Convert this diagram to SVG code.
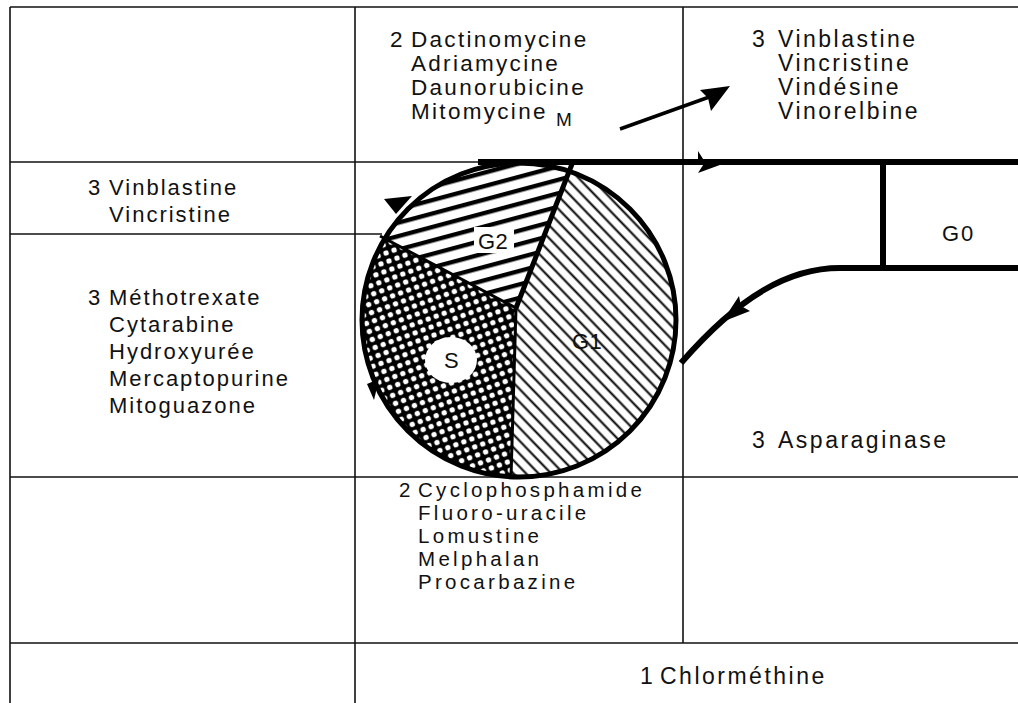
<svg xmlns="http://www.w3.org/2000/svg" width="1018" height="703" viewBox="0 0 1018 703">
<style>
text { font-family: "Liberation Sans", Arial, sans-serif; font-size: 22px; letter-spacing: 2px; fill: #111; }
.wide { font-size: 23px; letter-spacing: 2.5px; }
.mid { font-size: 22.5px; letter-spacing: 2.3px; }
.bot { font-size: 20.5px; letter-spacing: 3.3px; }
.lbl { font-size: 22px; letter-spacing: 0.5px; }
.grid { stroke: #111; stroke-width: 1.6; fill: none; }
.thick { stroke: #000; stroke-width: 6; fill: none; }
</style>
<defs>
  <clipPath id="circ"><circle cx="519" cy="320" r="157"/></clipPath>
  <pattern id="pG2" width="13" height="13" patternUnits="userSpaceOnUse" patternTransform="rotate(-15)">
    <rect width="13" height="13" fill="#fff"/>
    <rect y="4" width="13" height="4.4" fill="#000"/>
  </pattern>
  <pattern id="pG1" width="9" height="9" patternUnits="userSpaceOnUse" patternTransform="rotate(-44)">
    <rect width="9" height="9" fill="#fff"/>
    <rect x="3.5" width="2" height="9" fill="#000"/>
  </pattern>
  <pattern id="pS" width="8.5" height="8.5" patternUnits="userSpaceOnUse" patternTransform="rotate(-20)">
    <rect width="8.5" height="8.5" fill="#000"/>
    <circle cx="4.25" cy="4.25" r="2.7" fill="#fff"/>
  </pattern>
</defs>
<rect width="1018" height="703" fill="#fff"/>

<g id="grid">
  <line class="grid" x1="10" y1="7" x2="1018" y2="7"/>
  <line class="grid" x1="10" y1="7" x2="10" y2="703"/>
  <line class="grid" x1="355" y1="7" x2="355" y2="703"/>
  <line class="grid" x1="683" y1="7" x2="683" y2="643"/>
  <line class="grid" x1="10" y1="162" x2="480" y2="162"/>
  <line class="grid" x1="10" y1="234" x2="382" y2="234"/>
  <line class="grid" x1="10" y1="477" x2="1018" y2="477"/>
  <line class="grid" x1="10" y1="643" x2="1018" y2="643"/>
</g>

<g id="cycle">
  <g clip-path="url(#circ)">
    <polygon points="516,308 578,150 340,150 340,215" fill="url(#pG2)"/>
    <polygon points="516,308 578,150 700,150 700,500 511,500" fill="url(#pG1)"/>
    <polygon points="516,308 511,500 340,500 340,215" fill="url(#pS)"/>
  </g>
  <line x1="516" y1="308" x2="572" y2="164" stroke="#000" stroke-width="5"/>
  <line x1="516" y1="308" x2="380" y2="236" stroke="#000" stroke-width="3"/>
  <line x1="516" y1="308" x2="511" y2="477" stroke="#000" stroke-width="3"/>
  <circle cx="519" cy="320" r="157" fill="none" stroke="#000" stroke-width="5"/>
  <rect x="474" y="227" width="40" height="26" fill="#fff"/>
  <ellipse cx="451" cy="360" rx="26" ry="23" fill="#fff"/>
  <text class="lbl" x="478" y="249">G2</text>
  <text class="lbl" x="444" y="368">S</text>
  <text class="lbl" x="572" y="349">G1</text>
  <path d="M384,199 L412,196 L404,205 L396,214 Z" fill="#000"/>
  <path d="M367,384 L379,379 L374,400 Z" fill="#000"/>
</g>

<g id="connectors">
  <line class="thick" x1="478" y1="162" x2="1018" y2="162"/>
  <path d="M698,162 L728,162 L698,173 L705,162 L698,151 Z" fill="#000"/>
  <line class="thick" x1="883" y1="162" x2="883" y2="268"/>
  <path class="thick" d="M1018,268 L840,268 C790,268 740,295 681,363"/>
  <path d="M722,322 L750,311 L741,306 L739,296 Z" fill="#000"/>
  <line x1="620" y1="129" x2="712" y2="96" stroke="#000" stroke-width="3.5"/>
  <path d="M730,86 L700,90 L708,98 L711,111 Z" fill="#000"/>
</g>

<g id="g0"><text x="942" y="241">G0</text></g>

<g id="drugs-M" class="mid">
  <text class="mid" x="390" y="47">2</text>
  <text class="mid" x="411" y="47">Dactinomycine</text>
  <text class="mid" x="411" y="71">Adriamycine</text>
  <text class="mid" x="411" y="95">Daunorubicine</text>
  <text class="mid" x="411" y="119">Mitomycine</text>
  <text x="556" y="126" style="font-size:19px;letter-spacing:0">M</text>
</g>
<g id="drugs-vinca-M">
  <text class="wide" x="752" y="47">3</text>
  <text class="wide" x="778" y="47">Vinblastine</text>
  <text class="wide" x="778" y="71">Vincristine</text>
  <text class="wide" x="778" y="95">Vindésine</text>
  <text class="wide" x="778" y="119">Vinorelbine</text>
</g>
<g id="drugs-G2">
  <text x="88" y="195">3</text>
  <text x="109" y="195">Vinblastine</text>
  <text x="109" y="222">Vincristine</text>
</g>
<g id="drugs-S">
  <text x="88" y="305">3</text>
  <text x="109" y="305">Méthotrexate</text>
  <text x="109" y="332">Cytarabine</text>
  <text x="109" y="359">Hydroxyurée</text>
  <text x="109" y="386">Mercaptopurine</text>
  <text x="109" y="413">Mitoguazone</text>
</g>
<g id="drugs-G1">
  <text class="wide" x="752" y="448">3</text>
  <text class="wide" x="778" y="448">Asparaginase</text>
</g>
<g id="drugs-all">
  <text class="bot" x="399" y="497">2</text>
  <text class="bot" x="418" y="497">Cyclophosphamide</text>
  <text class="bot" x="418" y="520">Fluoro-uracile</text>
  <text class="bot" x="418" y="543">Lomustine</text>
  <text class="bot" x="418" y="566">Melphalan</text>
  <text class="bot" x="418" y="589">Procarbazine</text>
</g>
<g id="drugs-nonspecific">
  <text class="wide" x="640" y="684">1</text>
  <text class="wide" x="660" y="684">Chlorméthine</text>
</g>
</svg>
